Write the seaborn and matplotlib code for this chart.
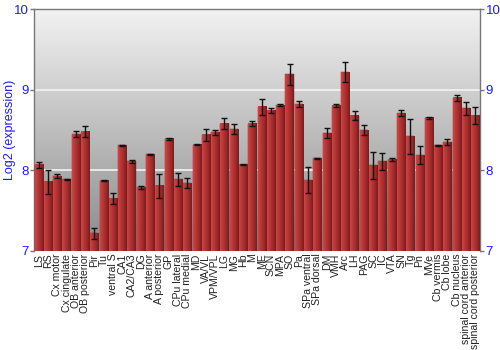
import numpy as np
import pandas as pd
import matplotlib
matplotlib.use("Agg")
import matplotlib.pyplot as plt
import seaborn as sns
from matplotlib.colors import LinearSegmentedColormap

regions = ["LS", "RS", "Cx motor", "Cx cingulate", "OB anterior", "OB posterior", "Pir", "Tu",
           "ventral S", "CA1", "CA2/CA3", "DG", "A anterior", "A posterior", "GP", "CPu lateral",
           "CPu medial", "MD", "VA/VL", "VPM/VPL", "LG", "MG", "Hb", "M", "ME", "SCN", "MPA",
           "SO", "Pa", "SPa ventral", "SPa dorsal", "DM", "VMH", "Arc", "LH", "PAG", "SC", "IC",
           "VTA", "SN", "Tg", "Pn", "MVe", "Cb vermis", "Cb lobe", "Cb nucleus",
           "spinal cord anterior", "spinal cord posterior"]
expression = [8.07, 7.86, 7.93, 7.89, 8.45, 8.48, 7.22, 7.87,
              7.65, 8.31, 8.11, 7.79, 8.20, 7.81, 8.39, 7.89,
              7.84, 8.32, 8.44, 8.47, 8.58, 8.51, 8.07, 8.58, 8.79, 8.74, 8.81,
              9.19, 8.82, 7.88, 8.15, 8.46, 8.80, 9.22, 8.68, 8.50, 8.06, 8.11,
              8.13, 8.71, 8.42, 8.19, 8.65, 8.31, 8.35, 8.90,
              8.77, 8.68]
errors = [0.035, 0.15, 0.025, 0.005, 0.04, 0.07, 0.07, 0.005,
          0.07, 0.005, 0.02, 0.02, 0.005, 0.15, 0.01, 0.08,
          0.06, 0.005, 0.075, 0.03, 0.065, 0.065, 0.005, 0.03, 0.10, 0.03, 0.01,
          0.13, 0.04, 0.16, 0.005, 0.06, 0.02, 0.13, 0.06, 0.065, 0.17, 0.105,
          0.02, 0.035, 0.22, 0.11, 0.01, 0.005, 0.04, 0.035,
          0.08, 0.10]
yticks = [7, 8, 9, 10]

df = pd.DataFrame({"region": regions, "expression": expression})

sns.set_style("white")
plt.rcParams['font.family'] = ['Liberation Sans', 'DejaVu Sans']

fig = plt.figure(figsize=(5, 3.5), dpi=100)
ax = fig.add_axes([0.068, 0.283, 0.892, 0.691])

sns.barplot(data=df, x="region", y="expression", color="#b03030", width=0.88,
            errorbar=None, ax=ax, zorder=3)
ymin, ymax = yticks[0], yticks[-1]
ax.set_ylim(ymin, ymax)
ax.set_xlim(-0.5, len(regions) - 0.5)

# background vertical gradient
bg = LinearSegmentedColormap.from_list("bg", ["#8a8a8a", "#f2f2f2"])
ax.imshow(np.linspace(0, 1, 256).reshape(-1, 1), cmap=bg, aspect="auto",
          extent=[0, 1, 0, 1], transform=ax.transAxes, origin="lower", zorder=0)

# grid lines
for v in [8, 9]:
    ax.axhline(v, color="#f4f4f4", lw=1.2, zorder=1)

# bar gradients
barcm = LinearSegmentedColormap.from_list("bar", ["#c84848", "#b83535", "#a02a2a", "#7a1a1a"])
grad = np.linspace(0, 1, 64).reshape(1, -1)
xs = []
for p in ax.patches:
    x0, y0 = p.get_x(), p.get_y()
    w, h = p.get_width(), p.get_height()
    xs.append(x0 + w / 2)
    p.set_edgecolor("#7a1a1a")
    p.set_linewidth(0.3)
    ax.imshow(grad, cmap=barcm, aspect="auto",
              extent=[x0, x0 + w, max(y0, ymin), y0 + h], zorder=3.5)

ax.errorbar(xs, expression, yerr=errors, fmt="none", ecolor="#111111", elinewidth=1,
            capsize=2.2, capthick=1, zorder=5)

ax.set_xlim(-0.5, len(regions) - 0.5)
ax.set_ylim(ymin, ymax)
ax.set_yticks(yticks)
ax.set_yticklabels([str(t) for t in yticks], color="#1a1aff", fontsize=9.5)
ax.tick_params(axis="y", which="both", left=True, right=True, labelleft=True, labelright=True,
               length=3, width=1, color="#777777", pad=1)
ax.tick_params(axis="x", length=0, pad=2, labelsize=7.6, labelcolor="#222222")
plt.setp(ax.get_xticklabels(), rotation=90)
ax.set_xlabel("")
ax.set_ylabel("Log2 (expression)", color="#1a1aff", fontsize=9, va="center")
ax.yaxis.set_label_coords(-0.054, 0.5)

for s in ax.spines.values():
    s.set_color("#777777")
    s.set_linewidth(1)
ax.spines["bottom"].set_visible(False)

fig.savefig("out.png", dpi=100)
